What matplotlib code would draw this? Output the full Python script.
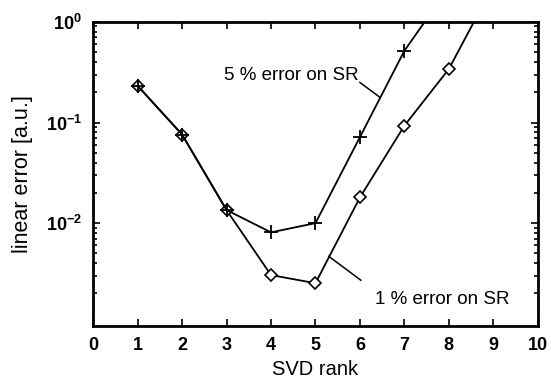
import numpy as np
import matplotlib
matplotlib.use("Agg")
import matplotlib.pyplot as plt
from matplotlib.ticker import LogLocator, NullFormatter, MultipleLocator

plt.rcParams['font.family'] = ['Liberation Sans', 'DejaVu Sans']

# SVD rank and linear error for the two noise levels on SR
rank = [1, 2, 3, 4, 5, 6, 7, 8, 9]
err_1pct = [0.232, 0.076, 0.0135, 0.00305, 0.00253, 0.0180, 0.093, 0.34, 2.3]
rank_5 = [1, 2, 3, 4, 5, 6, 7, 8]
err_5pct = [0.232, 0.076, 0.0135, 0.0081, 0.0100, 0.0716, 0.516, 2.2]

fig = plt.figure(figsize=(5.51, 3.84), dpi=100)
ax = fig.add_axes([0.169, 0.151, 0.807, 0.792])

ax.plot(rank, err_1pct, color='black', lw=1.3, marker='D', ms=6,
        mfc='white', mec='black', mew=1.2)
ax.plot(rank_5, err_5pct, color='black', lw=1.3, marker='+', ms=10,
        mew=1.3)

ax.set_yscale('log')
ax.set_xlim(0, 10)
ax.set_ylim(9.5e-4, 1)

ax.xaxis.set_major_locator(MultipleLocator(1))
ax.yaxis.set_minor_locator(LogLocator(base=10, subs=np.arange(2, 10), numticks=10))
ax.yaxis.set_minor_formatter(NullFormatter())
ax.set_yticks([1e-2, 1e-1, 1])
ax.set_yticklabels(['$\\mathregular{10^{-2}}$', '$\\mathregular{10^{-1}}$',
                    '$\\mathregular{10^{0}}$'])

ax.tick_params(which='both', direction='in', top=True, right=True, width=1.2)
ax.tick_params(which='major', length=5, labelsize=13, pad=8)
ax.tick_params(which='minor', length=3)
for lab in ax.get_xticklabels() + ax.get_yticklabels():
    lab.set_fontweight('bold')
for sp in ax.spines.values():
    sp.set_linewidth(2)

ax.set_xlabel('SVD rank', fontsize=14.5, labelpad=4)
ax.set_ylabel('linear error [a.u.]', fontsize=15.5, labelpad=9)

# curve labels with leader lines
ax.text(2.95, 0.293, '5 % error on SR', fontsize=13.5, ha='left', va='center')
ax.plot([6.0, 6.45], [0.25, 0.178], color='black', lw=1.1)
ax.text(6.34, 0.00176, '1 % error on SR', fontsize=13.5, ha='left', va='center')
ax.plot([5.3, 6.02], [0.00468, 0.00271], color='black', lw=1.1)

fig.savefig('out.png', dpi=100)
